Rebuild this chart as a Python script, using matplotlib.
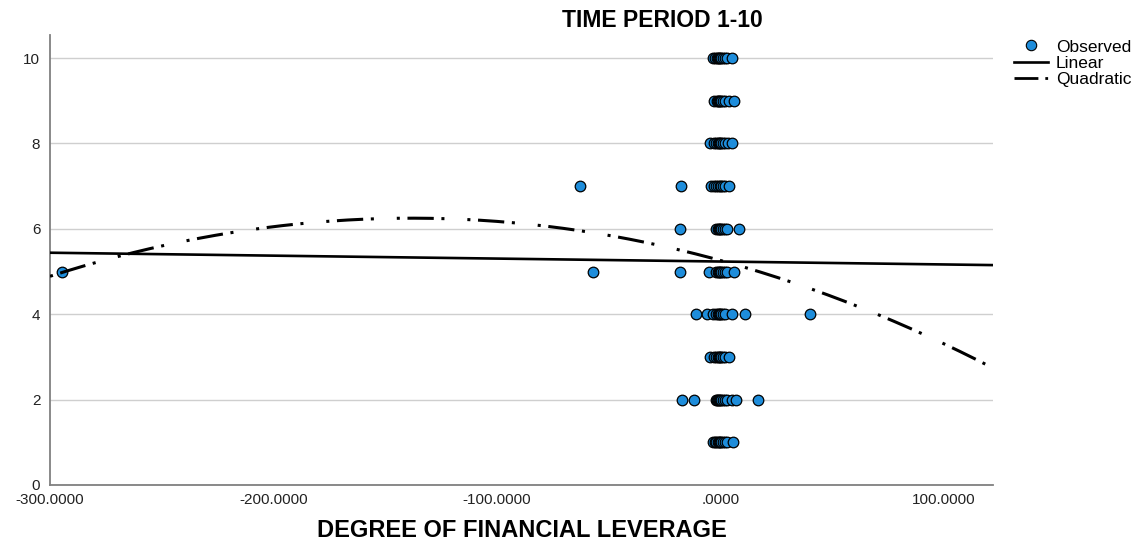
import matplotlib
matplotlib.use("Agg")
import matplotlib.pyplot as plt
from matplotlib.lines import Line2D
import numpy as np

plt.rcParams['font.family'] = ['Liberation Sans', 'DejaVu Sans']

# observed points, one list of x values per time period
niveles = [10, 9, 8, 7, 6, 5, 4, 3, 2, 1]
x_por_nivel = {
    10: [-3.5, -2.5, -1.5, -1, -0.5, 0, 0.5, 1, 2, 3, 5],
    9: [-2.7, -1.5, -1, -0.5, 0, 0.3, 1, 2, 4, 6.3],
    8: [-4.5, -3, -2, -1, -0.5, 0, 0.5, 1, 2, 3.5, 5],
    7: [-63, -17.5, -4, -3, -2, -1, 0, 0.5, 1, 2, 4],
    6: [-18, -2, -1, -0.5, 0, 0.5, 1, 2, 3, 8.5],
    5: [-294.5, -57, -18, -5, -2, -1, -0.5, 0, 0.5, 1, 2, 3, 6],
    4: [-11, -6, -3.5, -2, -1, -0.5, 0, 0.5, 1, 2, 5.4, 11, 40],
    3: [-4.5, -3, -2, -1, -0.5, 0, 0.5, 1, 2, 4],
    2: [-17, -12, -2, -1.5, -1, -0.5, 0, 0.5, 1, 2, 3, 5, 7, 17],
    1: [-3.5, -2.5, -2, -1, -0.5, 0, 0.5, 1, 2, 3, 5.5],
}

# fitted curve coefficients
lineal = [5.234, -0.000687]              # a + b*x
cuadratica = [5.26, -0.01433, -0.0000519]  # a + b*x + c*x^2

xticks = [-300, -200, -100, 0, 100]
xtick_labels = ['-300.0000', '-200.0000', '-100.0000', '.0000', '100.0000']
yticks = [0, 2, 4, 6, 8, 10]

azul = '#1e8ddb'
punto_raya = (0, (1, 2.5, 8.6, 2.5, 1, 7.5))

fig = plt.figure(figsize=(11.44, 5.4), dpi=100)
ax = fig.add_axes([0.0437, 0.1019, 0.8243, 0.8333])

xs, ys = [], []
for n in niveles:
    for v in x_por_nivel[n]:
        xs.append(v)
        ys.append(n)
ax.scatter(xs, ys, s=58, c=azul, edgecolors='black', linewidths=0.9, zorder=3)

xmin, xmax = -300, 122
xx = np.linspace(xmin, xmax, 400)
ax.plot(xx, lineal[0] + lineal[1] * xx, color='black', lw=1.9, zorder=4)
ax.plot(xx, cuadratica[0] + cuadratica[1] * xx + cuadratica[2] * xx ** 2,
        color='black', lw=2.2, linestyle=punto_raya, zorder=4)

ax.set_xlim(xmin, xmax)
ax.set_ylim(0, 10.54)
ax.set_xticks(xticks)
ax.set_xticklabels(xtick_labels)
ax.set_yticks(yticks)
ax.tick_params(length=0, labelsize=11, colors='#222222')
ax.tick_params(axis='y', pad=7)
ax.tick_params(axis='x', pad=6)
ax.grid(axis='y', color='#cfcfcf', lw=1)
ax.set_axisbelow(True)
for s in ['top', 'right']:
    ax.spines[s].set_visible(False)
for s in ['left', 'bottom']:
    ax.spines[s].set_color('#808080')
    ax.spines[s].set_linewidth(1.3)

fig.text(0.579, 0.962, 'TIME PERIOD 1-10', ha='center', va='center',
         fontsize=16.5, fontweight='bold')
fig.text(0.456, 0.018, 'DEGREE OF FINANCIAL LEVERAGE', ha='center', va='center',
         fontsize=17, fontweight='bold')

handles = [
    Line2D([], [], marker='o', ls='none', markersize=7.5, markerfacecolor=azul,
           markeredgecolor='black', markeredgewidth=0.8),
    Line2D([], [], color='black', lw=1.9),
    Line2D([], [], color='black', lw=2, linestyle=(0, (8.6, 2.5, 1, 7.5))),
]
fig.legend(handles, ['Observed', 'Linear', 'Quadratic'], loc='upper left',
           bbox_to_anchor=(0.886, 0.927), frameon=False, fontsize=12.5,
           handlelength=2.0, handletextpad=0.45, labelspacing=0.05,
           borderaxespad=0, borderpad=0)

fig.savefig('out.png', dpi=100)
